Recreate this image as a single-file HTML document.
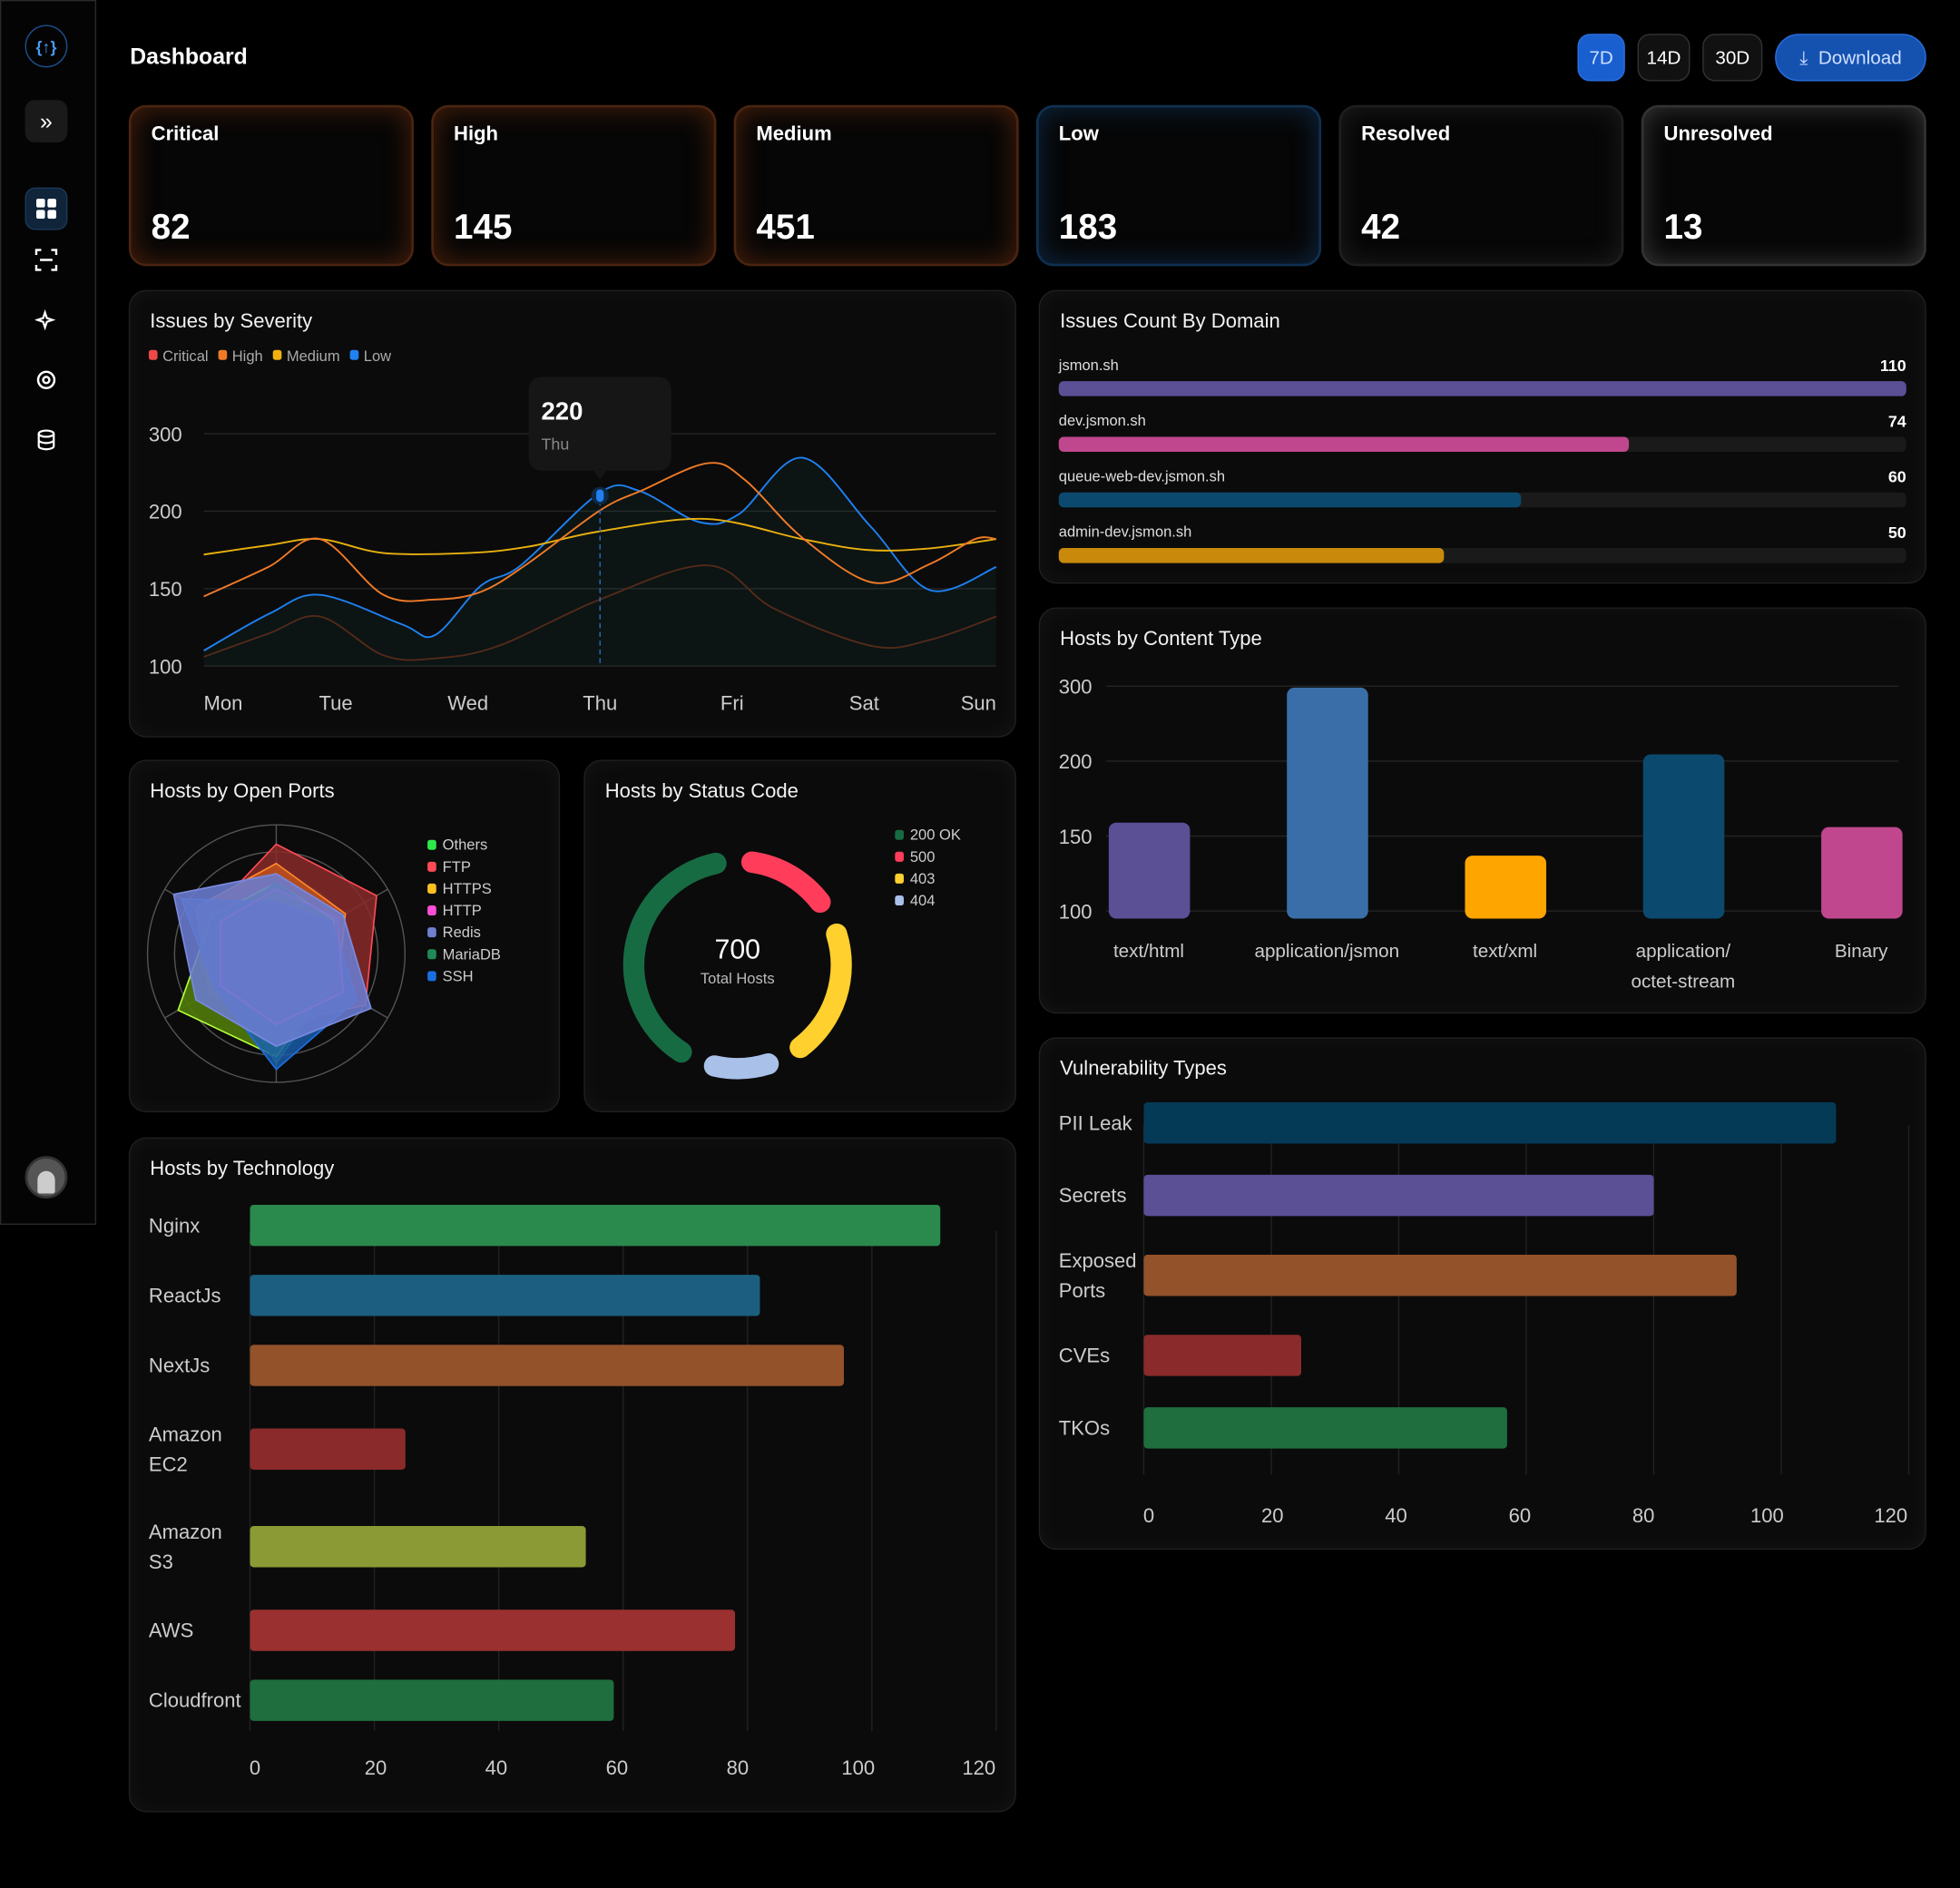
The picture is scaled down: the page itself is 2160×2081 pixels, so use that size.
<!DOCTYPE html>
<html><head><meta charset="utf-8"><style>
*{box-sizing:border-box;margin:0;padding:0}
html,body{width:2160px;height:2081px;overflow:hidden;background:#000}
body{font-family:"Liberation Sans",sans-serif;color:#fff}
#root{position:absolute;left:0;top:0;width:1568px;height:1511px;transform:scale(1.377551);transform-origin:0 0;background:#000}
.abs{position:absolute}
.card{position:absolute;background:#0b0b0b;border:1px solid #202020;border-radius:14px;box-shadow:inset 0 0 18px rgba(255,255,255,0.04)}
.ctitle{position:absolute;left:16px;top:16px;font-size:16px;color:#f2f2f2}
.stat{position:absolute;top:84px;width:228px;height:129px;border-radius:14px;background:#060606}
.stat .l{position:absolute;left:16px;top:13px;font-size:16px;font-weight:bold}
.stat .n{position:absolute;left:16px;top:80px;font-size:28px;font-weight:bold}
.btn{position:absolute;top:27px;height:38px;border-radius:10px;font-size:15px;display:flex;align-items:center;justify-content:center;border:1px solid #333;background:#111;color:#fff}
.sicon{position:absolute;left:20px;width:34px;height:34px;border-radius:8px;display:flex;align-items:center;justify-content:center}
</style></head><body>
<div id="root">
<div class="abs" style="left:0;top:0;width:77px;height:980px;border:1px solid #2a2a2a;background:#040404"></div>
<div class="sicon" style="top:20px;border-radius:17px;border:1px solid #1d4f8f;color:#4a9af0;font-size:13px;font-weight:bold">{↑}</div>
<div class="sicon" style="top:80px;background:#1a1a1a;font-size:18px">»</div>
<div class="sicon" style="top:150px;background:#10243a;border:1px solid #1d3a5a">
<svg width="16" height="16"><rect x="0" y="0" width="7" height="7" rx="1.5" fill="#fff"/><rect x="9" y="0" width="7" height="7" rx="1.5" fill="#fff"/><rect x="0" y="9" width="7" height="7" rx="1.5" fill="#fff"/><rect x="9" y="9" width="7" height="7" rx="1.5" fill="#fff"/></svg></div>
<div class="sicon" style="top:191px"><svg width="18" height="18" fill="none" stroke="#fff" stroke-width="1.8"><path d="M1 5V1h4M13 1h4v4M17 13v4h-4M5 17H1v-4M4 9h10"/></svg></div>
<div class="sicon" style="top:239px"><svg width="18" height="18" fill="none" stroke="#fff" stroke-width="1.6"><path d="M8 3l1.5 4.5L14 9l-4.5 1.5L8 15l-1.5-4.5L2 9l4.5-1.5z"/></svg></div>
<div class="sicon" style="top:287px"><svg width="18" height="18" fill="none" stroke="#fff" stroke-width="1.8"><circle cx="9" cy="9" r="6.5"/><circle cx="9" cy="9" r="2.5"/></svg></div>
<div class="sicon" style="top:335px"><svg width="18" height="18" fill="none" stroke="#fff" stroke-width="1.6"><ellipse cx="9" cy="4" rx="6" ry="2.5"/><path d="M3 4v10c0 1.5 3 2.5 6 2.5s6-1 6-2.5V4M3 9c0 1.5 3 2.5 6 2.5s6-1 6-2.5"/></svg></div>
<div class="sicon" style="top:925px;border-radius:17px;background:#555;border:2px solid #333"><div style="width:14px;height:18px;border-radius:7px 7px 2px 2px;background:#ccc;margin-top:8px"></div></div>

<div class="abs" style="left:104px;top:35px;font-size:18px;font-weight:bold">Dashboard</div>
<div class="btn" style="left:1262px;width:38px;background:#1a5fd0;border-color:#2a6fe0;color:#cfe0ff">7D</div>
<div class="btn" style="left:1310px;width:42px">14D</div>
<div class="btn" style="left:1362px;width:48px">30D</div>
<div class="btn" style="left:1420px;width:121px;border-radius:19px;background:#1552b0;border-color:#2a6fe0;color:#cfe0ff">⤓&nbsp; Download</div>

<div class="stat" style="left:103px;border:2px solid #4a2410;box-shadow:inset 0 0 22px rgba(200,80,20,0.35)"><div class="l">Critical</div><div class="n">82</div></div>
<div class="stat" style="left:345px;border:2px solid #4a2410;box-shadow:inset 0 0 22px rgba(200,80,20,0.35)"><div class="l">High</div><div class="n">145</div></div>
<div class="stat" style="left:587px;border:2px solid #4a2410;box-shadow:inset 0 0 22px rgba(200,80,20,0.35)"><div class="l">Medium</div><div class="n">451</div></div>
<div class="stat" style="left:829px;border:2px solid #0f3050;box-shadow:inset 0 0 22px rgba(30,100,180,0.35)"><div class="l">Low</div><div class="n">183</div></div>
<div class="stat" style="left:1071px;border:2px solid #1e1e1e;box-shadow:inset 0 0 22px rgba(120,120,120,0.2)"><div class="l">Resolved</div><div class="n">42</div></div>
<div class="stat" style="left:1313px;border:2px solid #333;box-shadow:inset 0 0 22px rgba(200,200,200,0.25)"><div class="l">Unresolved</div><div class="n">13</div></div>

<div class="card" style="left:103px;top:232px;width:710px;height:358px"><div class="ctitle">Issues by Severity</div></div>
<div class="card" style="left:831px;top:232px;width:710px;height:235px"><div class="ctitle">Issues Count By Domain</div></div>
<div class="card" style="left:831px;top:486px;width:710px;height:325px"><div class="ctitle">Hosts by Content Type</div></div>
<div class="card" style="left:103px;top:608px;width:345px;height:282px"><div class="ctitle">Hosts by Open Ports</div></div>
<div class="card" style="left:467px;top:608px;width:346px;height:282px"><div class="ctitle">Hosts by Status Code</div></div>
<div class="card" style="left:103px;top:910px;width:710px;height:540px"><div class="ctitle">Hosts by Technology</div></div>
<div class="card" style="left:831px;top:830px;width:710px;height:410px"><div class="ctitle">Vulnerability Types</div></div>

<svg id="charts" class="abs" style="left:0;top:0" width="1568" height="1511" font-family="Liberation Sans, sans-serif"></svg>
</div>
<script>
// ---- Issues by Severity ----
const sevTicks=[100,150,200,300];
const sevDays=["Mon","Tue","Wed","Thu","Fri","Sat","Sun"];
const lowD=[0,0.5,0.88,1.5,1.75,2.1,2.4,3,3.3,3.75,4.05,4.53,5.05,5.5,6];
const lowV=[110,134,146,127,120,152,165,224,226,193,198,269,190,149,164];
const highD=[0,0.49,0.88,1.36,1.75,2.1,2.45,3,3.32,3.82,4.1,4.53,5.06,5.5,5.84,6];
const highV=[145,164,182,146,143,148,166,201,227,262,240,183,154,166,182,182];
const medD=[0,0.49,0.88,1.36,2,2.45,3,3.8,4.53,5.02,5.5,6];
const medV=[172,178,182,173,173,177,187,195,182,175,176,182];
const critD=[0,0.49,0.88,1.36,1.75,2.23,3,3.82,4.32,5.06,5.5,6];
const critV=[106,121,132,107,105,113,143,165,137,113,117,132];
const tipValue=220, tipDay=3;
// ---- Domains ----
const domains=["jsmon.sh","dev.jsmon.sh","queue-web-dev.jsmon.sh","admin-dev.jsmon.sh"];
const domainVals=[110,74,60,50];
// ---- Content type ----
const ctCats=[["text/html"],["application/jsmon"],["text/xml"],["application/","octet-stream"],["Binary"]];
const ctVals=[159,298,137,209,156];
const ctTicks=[100,150,200,300];
// ---- Open ports radar ----
const portNames=["Others","FTP","HTTPS","HTTP","Redis","MariaDB","SSH"];
const ftpV=[85,90,80,55,50,60];
const httpsV=[70,62,55,50,60,72];
const othersV=[55,52,48,80,88,58];
const mariaV=[55,50,50,85,45,50];
const sshV=[40,50,72,90,55,85];
const httpV=[50,55,60,55,50,50];
const redisV=[62,60,85,72,72,92];
// ---- Status code ----
const statusNames=["200 OK","500","403","404"];
const statusVals=[338,112,175,75];
const totalHosts=700;
// ---- Technology ----
const techCats=[["Nginx"],["ReactJs"],["NextJs"],["Amazon","EC2"],["Amazon","S3"],["AWS"],["Cloudfront"]];
const techVals=[111,82,95.5,25,54,78,58.5];
const barTicks=[0,20,40,60,80,100,120];
// ---- Vulnerabilities ----
const vulnCats=[["PII Leak"],["Secrets"],["Exposed","Ports"],["CVEs"],["TKOs"]];
const vulnVals=[108.6,80,93,24.7,57];

const svg=document.getElementById('charts');
const NS='http://www.w3.org/2000/svg';
function mk(tag,attrs,parent){const e=document.createElementNS(NS,tag);for(const k in attrs)e.setAttribute(k,attrs[k]);(parent||svg).appendChild(e);return e;}
function txt(x,y,s,attrs){const t=mk('text',Object.assign({x:x,y:y},attrs));t.textContent=s;return t;}
function piece(ticks,pos){return v=>{for(let i=0;i<ticks.length-1;i++){if(v<=ticks[i+1]||i==ticks.length-2){const f=(v-ticks[i])/(ticks[i+1]-ticks[i]);return pos[i]+f*(pos[i+1]-pos[i]);}}};}
function smooth(pts){let d='M'+pts[0][0]+','+pts[0][1];for(let i=0;i<pts.length-1;i++){const p0=pts[i-1]||pts[i],p1=pts[i],p2=pts[i+1],p3=pts[i+2]||p2;const c1=[p1[0]+(p2[0]-p0[0])/6,p1[1]+(p2[1]-p0[1])/6],c2=[p2[0]-(p3[0]-p1[0])/6,p2[1]-(p3[1]-p1[1])/6];d+=' C'+c1+' '+c2+' '+p2;}return d;}

// Severity chart
const sx=d=>163+d*(634/6);
const sy=piece(sevTicks,[533,471,409,347]);
const legend=[["Critical","#f04848"],["High","#f07a28"],["Medium","#f0b010"],["Low","#2080f0"]];
let lx=119;
legend.forEach(l=>{const r=mk('rect',{x:lx,y:280,width:7,height:8,rx:2,fill:l[1]});


const t=txt(lx+11,289,l[0],{fill:'#aaa','font-size':12});


lx+=11+t.getComputedTextLength()+8;});
sevTicks.forEach(v=>{const g=mk('line',{x1:163,x2:797,y1:sy(v),y2:sy(v),stroke:'#262626'});


const t=txt(119,sy(v)+6,v,{fill:'#ccc','font-size':16});

});
sevDays.forEach((d,i)=>{const anchor=i==0?'start':i==6?'end':'middle';const t=txt(sx(i),568,d,{fill:'#ccc','font-size':16,'text-anchor':anchor});

});
function series(D,V,color,name,fill){const pts=D.map((d,i)=>[sx(d),sy(V[i])]);const p=smooth(pts);
if(fill){const a=mk('path',{d:p+' L'+sx(D[D.length-1])+',533 L'+sx(D[0])+',533 Z',fill:fill,opacity:0.12});

}
const l=mk('path',{d:p,fill:'none',stroke:color,'stroke-width':1.4});

}
series(critD,critV,'#5a2410','critical-series',null);
series(lowD,lowV,'#1e80f0','low-series','#1a5a5a');
series(medD,medV,'#e8b010','medium-series',null);
series(highD,highV,'#f07a28','high-series',null);
const tl=mk('line',{x1:sx(tipDay),x2:sx(tipDay),y1:sy(tipValue)+4,y2:533,stroke:'#2a70c0','stroke-dasharray':'4 3'});


const tb=mk('rect',{x:sx(tipDay)-57,y:sy(tipValue)-95,width:114,height:75,rx:10,fill:'#161616'});


const tp=mk('path',{d:`M${sx(tipDay)-5},${sy(tipValue)-20} L${sx(tipDay)},${sy(tipValue)-13} L${sx(tipDay)+5},${sy(tipValue)-20}Z`,fill:'#161616'});


const tv=txt(sx(tipDay)-47,sy(tipValue)-61,tipValue,{fill:'#fff','font-size':20,'font-weight':'bold'});


const td=txt(sx(tipDay)-47,sy(tipValue)-37,sevDays[tipDay],{fill:'#888','font-size':13});


const dh=mk('circle',{cx:sx(tipDay),cy:sy(tipValue),r:7,fill:'#0f2a48'});


const dp=mk('rect',{x:sx(tipDay)-3,y:sy(tipValue)-5,width:6,height:10,rx:3,fill:'#2080f0'});



// Domains
const domColors=['#5b4f96','#c0478d','#0b4a6e','#c98a0c'];
const dxs=v=>847+v/110*678;
domains.forEach((d,i)=>{const y=292+i*44.5;
const l=txt(847,y+4,d,{fill:'#ddd','font-size':12});


const v=txt(1525,y+5,domainVals[i],{fill:'#fff','font-size':13,'font-weight':'bold','text-anchor':'end'});


const tr=mk('rect',{x:847,y:y+13,width:678,height:12,rx:4,fill:'#1a1a1a'});


const b=mk('rect',{x:847,y:y+13,width:dxs(domainVals[i])-847,height:12,rx:4,fill:domColors[i]});

});

// Content type
const cy=piece(ctTicks,[729,669,609,549]);
const ctColors=['#5b4f96','#3a6ea8','#ffa500','#0b4a6e','#c0478d'];
ctTicks.forEach(v=>{const g=mk('line',{x1:885,x2:1519,y1:cy(v),y2:cy(v),stroke:'#242424'});


const t=txt(847,cy(v)+6,v,{fill:'#ccc','font-size':16});

});
ctCats.forEach((c,i)=>{const cx=919+i*142.5;
const b=mk('rect',{x:cx-32,y:cy(ctVals[i]),width:65,height:735-cy(ctVals[i]),rx:6,fill:ctColors[i]});


c.forEach((s,j)=>{const t=txt(cx,766+j*24,s,{fill:'#ccc','font-size':15,'text-anchor':'middle'});

});});

// Radar
const RC=[221,763],RR=103;
const rad=(i,v)=>{const a=(-90+i*60)*Math.PI/180;return [RC[0]+Math.cos(a)*v/100*RR,RC[1]+Math.sin(a)*v/100*RR];};
[100,79,58].forEach(r=>{const c=mk('circle',{cx:RC[0],cy:RC[1],r:r/100*RR,fill:'none',stroke:'#555','stroke-width':1});

});
for(let i=0;i<6;i++){const p=rad(i,100);const l=mk('line',{x1:RC[0],y1:RC[1],x2:p[0],y2:p[1],stroke:'#555'});

}
const radarSeries=[[ftpV,'#ff4b55','#8a2a2a',0.85,'ftp'],[httpsV,'#ff8a2a','#c0521e',0.85,'https'],[othersV,'#b5ff3a','#4f7a0a',0.9,'others'],[mariaV,'#1f8a55','#2a8a5a',0.5,'mariadb'],[sshV,'#1a6fe0','#1a5fb0',0.8,'ssh'],[httpV,'#ff4fd8','#b04fa0',0.3,'http'],[redisV,'#7a8ae0','#6a7cd0',0.88,'redis']];
radarSeries.forEach(s=>{const pts=s[0].map((v,i)=>rad(i,v).join(',')).join(' ');
const p=mk('polygon',{points:pts,fill:s[2],'fill-opacity':s[3],stroke:s[1],'stroke-width':1.2});

});
const portColors=['#2ee84a','#ff4b55','#ffc020','#ff4fd8','#6f80d0','#1f8a55','#1a6fe0'];
portNames.forEach((n,i)=>{const y=679+i*17.5;
const r=mk('rect',{x:342,y:y-7,width:7,height:8,rx:2,fill:portColors[i]});


const t=txt(354,y+1,n,{fill:'#ccc','font-size':12});

});

// Donut
const DC=[590,772],DR=83,gap=20;
const stColors=['#176b43','#ff3d5a','#ffd02e','#a9c0e8'];
const order=[1,2,3,0];
const sum=statusVals.reduce((a,b)=>a+b,0);
const avail=360-gap*4;
let ang=8;
order.forEach(k=>{const sweep=statusVals[k]/sum*avail;const a0=(ang-90)*Math.PI/180,a1=(ang+sweep-90)*Math.PI/180;
const p=mk('path',{d:`M${DC[0]+DR*Math.cos(a0)},${DC[1]+DR*Math.sin(a0)} A${DR},${DR} 0 ${sweep>180?1:0} 1 ${DC[0]+DR*Math.cos(a1)},${DC[1]+DR*Math.sin(a1)}`,fill:'none',stroke:stColors[k],'stroke-width':17,'stroke-linecap':'round'});


ang+=sweep+gap;});
const tt=txt(590,767,totalHosts,{fill:'#fff','font-size':22,'text-anchor':'middle'});


const ts=txt(590,787,'Total Hosts',{fill:'#bbb','font-size':12,'text-anchor':'middle'});


statusNames.forEach((n,i)=>{const y=671+i*17.5;
const r=mk('rect',{x:716,y:y-7,width:7,height:8,rx:2,fill:stColors[i]});


const t=txt(728,y+1,n,{fill:'#ccc','font-size':12});

});

// Horizontal bar charts
function hbar(cats,vals,colors,x0,unit,yStart,gTop,gBot,tickY,prefix,labelX,h1,h2){
  const xs=v=>x0+v*unit;
  barTicks.forEach(v=>{const g=mk('line',{x1:xs(v),x2:xs(v),y1:gTop,y2:gBot,stroke:'#222'});
  
  
  const t=txt(x0+4+v*unit*0.97,tickY,v,{fill:'#ccc','font-size':16,'text-anchor':'middle'});
  
  });
  const hh=c=>c.length>1?h2:h1;
  let y=yStart;
  cats.forEach((c,i)=>{if(i>0)y+=(hh(c)+hh(cats[i-1]))/2;
    const b=mk('rect',{x:x0,y:y-16,width:xs(vals[i])-x0,height:33,rx:3,fill:colors[i]});
    
    
    c.forEach((s,j)=>{const t=txt(labelX,y+6-(c.length-1)*12+j*24,s,{fill:'#ccc','font-size':16});
    
    });
  });
}
hbar(techCats,techVals,['#2a8a4e','#1b5e80','#93522a','#8a2a2a','#8c9a35','#9a3030','#1e6e3e'],200,4.975,980,985,1385,1420,'tech',119,56,78);
hbar(vulnCats,vulnVals,['#053a57','#5b4f96','#93522a','#8a2a2a','#1e6e3e'],915,5.1,898,900,1180,1218,'vuln',847,58,70);
</script>
</body></html>
